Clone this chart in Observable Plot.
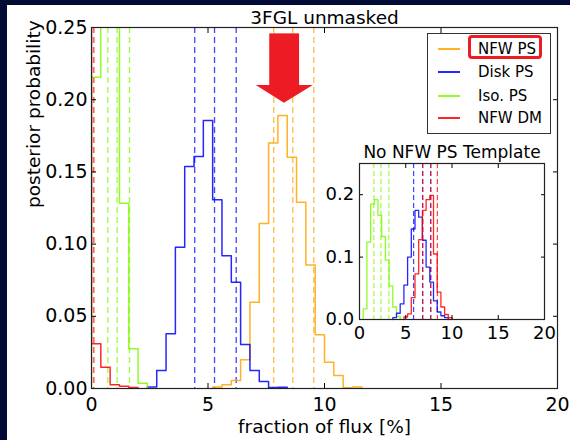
<!DOCTYPE html>
<html><head><meta charset="utf-8">
<script src="https://cdn.jsdelivr.net/npm/d3@7"></script>
<script src="https://cdn.jsdelivr.net/npm/@observablehq/plot@0.6"></script>
<style>
html,body{margin:0;padding:0;background:#020b36;width:570px;height:440px;overflow:hidden;font-family:"DejaVu Sans",sans-serif;}
#panel{position:absolute;left:7px;top:5px;width:563px;height:435px;background:#fff;}
#inset{position:absolute;left:300px;top:140px;}
#legend{position:absolute;left:427px;top:33px;width:122px;height:99px;border:1px solid #333;background:#fff;}
.lg{position:absolute;left:0;height:20px;width:122px;}
.lg .ln{position:absolute;left:10px;top:9px;width:22px;height:1.6px;}
.lg .tx{position:absolute;left:50px;top:0;font-size:15px;line-height:20px;color:#000;white-space:nowrap;}
#hl{position:absolute;left:468px;top:35px;width:68px;height:18px;border:3.5px solid #ed1c24;border-radius:4px;}
svg{display:block}
</style></head><body>
<div id="panel"></div>
<div id="inset"></div>
<div id="legend"></div>
<div id="hl"></div>
<script>
// ---------------- data ----------------
const binWidth = 0.4;
const mainTitle = "3FGL unmasked";
const insetTitle = "No NFW PS Template";
const xLabel = "fraction of flux [%]";
const yLabel = "posterior probability";
const seriesNames = ["NFW PS", "Disk PS", "Iso. PS", "NFW DM"];

const xTicks = [0, 5, 10, 15, 20];
const yTicks = [0, 0.05, 0.10, 0.15, 0.20, 0.25];
const insetYTicks = [0, 0.1, 0.2];

// main panel histograms (first bin start, per-bin probabilities)
const mainNfwPsStart = 5.2;
const mainNfwPs = [0.001, 0.0026, 0.0055, 0.0199, 0.0598, 0.1143, 0.1701, 0.189, 0.1602, 0.129, 0.0856, 0.0372, 0.0182, 0.009, 0.0005, 0.001];
const mainDiskPsStart = 2.4;
const mainDiskPs = [0.001, 0.0125, 0.0379, 0.0979, 0.1537, 0.1607, 0.1856, 0.1307, 0.0919, 0.0736, 0.0305, 0.0125, 0.0048, 0.0007, 0.0009];
const mainIsoPsStart = 0;
const mainIsoPs = [0.2156, 0.33, 0.295, 0.1283, 0.0275, 0.0037];
const mainNfwDmStart = -0.4;
const mainNfwDm = [0.95, 0.031, 0.0148, 0.0026, 0.0016, 0.0007];

// main panel quantile lines
const mainNfwPsQ = [7.82, 8.64, 9.54];
const mainDiskPsQ = [4.43, 5.28, 6.21];
const mainIsoPsQ = [0.70, 1.10, 1.63];
const mainNfwDmQ = [0.0, 0.1];

// inset histograms
const insetDiskPsStart = 3.6;
const insetDiskPs = [0.003, 0.010, 0.025, 0.055, 0.100, 0.145, 0.175, 0.164, 0.127, 0.084, 0.060, 0.030, 0.012, 0.006, 0.003];
const insetIsoPsStart = 0.4;
const insetIsoPs = [0.017, 0.124, 0.185, 0.192, 0.167, 0.133, 0.095, 0.054, 0.020, 0.005];
const insetNfwDmStart = 4.8;
const insetNfwDm = [0.004, 0.009, 0.035, 0.073, 0.128, 0.175, 0.192, 0.199, 0.105, 0.044, 0.020, 0.008, 0.003];

// inset quantile lines
const insetDiskPsQ = [5.85, 6.83, 7.70];
const insetIsoPsQ = [1.55, 2.32, 3.17];
const insetNfwDmQ = [6.83, 7.70, 8.42];

// red annotation arrow (data units)
const arrowShaft = [{x1: 7.65, x2: 8.93, y1: 0.2098, y2: 0.2456}];
const arrowHead = [{x: 7.07, y1: 0.2098, y2: 0.2098}, {x: 8.28, y1: 0.1976, y2: 0.2098}, {x: 9.52, y1: 0.2098, y2: 0.2098}];

// ---------------- style ----------------
const colors = ["#ffa500", "#0000ff", "#7cfc00", "#ff0000"];
const font = "DejaVu Sans";

function steps(start, vals, series) {
  const pts = [{x: start, y: 0, series}];
  vals.forEach((v, i) => pts.push({x: start + i * binWidth, y: v, series}));
  pts.push({x: start + vals.length * binWidth, y: 0, series});
  return pts;
}
function qrows(qs, series) { return qs.map(x => ({x, series})); }

const mainHist = [
  ...steps(mainNfwPsStart, mainNfwPs, "NFW PS"),
  ...steps(mainDiskPsStart, mainDiskPs, "Disk PS"),
  ...steps(mainIsoPsStart, mainIsoPs, "Iso. PS"),
  ...steps(mainNfwDmStart, mainNfwDm, "NFW DM")
];
const mainQ = [
  ...qrows(mainNfwPsQ, "NFW PS"), ...qrows(mainDiskPsQ, "Disk PS"),
  ...qrows(mainIsoPsQ, "Iso. PS"), ...qrows(mainNfwDmQ, "NFW DM")
];
const insetHist = [
  ...steps(insetIsoPsStart, insetIsoPs, "Iso. PS"),
  ...steps(insetDiskPsStart, insetDiskPs, "Disk PS"),
  ...steps(insetNfwDmStart, insetNfwDm, "NFW DM")
];
const insetQ = [
  ...qrows(insetIsoPsQ, "Iso. PS"), ...qrows(insetDiskPsQ, "Disk PS"), ...qrows(insetNfwDmQ, "NFW DM")
];

const main = Plot.plot({
  width: 563, height: 435,
  marginLeft: 84, marginRight: 13, marginTop: 22, marginBottom: 52,
  style: {fontFamily: font, fontSize: "19px", color: "#000", background: "transparent"},
  x: {domain: [0, 20], label: null},
  y: {domain: [0, 0.25], label: null},
  color: {domain: seriesNames, range: colors},
  marks: [
    Plot.ruleX(mainQ, {x: "x", stroke: "series", strokeWidth: 1.3, strokeDasharray: "6,4", strokeOpacity: 0.75, clip: true}),
    Plot.line(mainHist, {x: "x", y: "y", z: "series", stroke: "series", curve: "step-after", strokeWidth: 1.5, strokeOpacity: 0.85, clip: true}),
    Plot.rect(arrowShaft, {x1: "x1", x2: "x2", y1: "y1", y2: "y2", fill: "#ed1c24"}),
    Plot.areaY(arrowHead, {x: "x", y1: "y1", y2: "y2", fill: "#ed1c24"}),
    Plot.axisX({ticks: xTicks, tickSize: -5, tickPadding: 14, fontSize: 19, tickFormat: d => String(d), label: null}),
    Plot.axisX({anchor: "top", ticks: xTicks, tickSize: -5, tickFormat: () => "", label: null}),
    Plot.axisY({ticks: yTicks, tickSize: -5, tickPadding: 9, fontSize: 19, tickFormat: d3.format(".2f"), label: null}),
    Plot.axisY({anchor: "right", ticks: yTicks, tickSize: -5, tickFormat: () => "", label: null}),
    Plot.frame({stroke: "#222", strokeWidth: 1.2}),
    Plot.text([mainTitle], {frameAnchor: "top", dy: -9, fontSize: 18.5, lineAnchor: "middle", fill: "#000"}),
    Plot.text([xLabel], {frameAnchor: "bottom", dy: 39, fontSize: 18.5, lineAnchor: "middle", fill: "#000"}),
    Plot.text([yLabel], {frameAnchor: "left", dx: -57, rotate: -90, fontSize: 18.5, lineAnchor: "middle", fill: "#000"})
  ]
});
document.getElementById("panel").appendChild(main);

const inset = Plot.plot({
  width: 270, height: 210,
  marginLeft: 59, marginRight: 26, marginTop: 23, marginBottom: 31,
  style: {fontFamily: font, fontSize: "18px", color: "#000", background: "transparent", overflow: "visible"},
  x: {domain: [0, 20], label: null},
  y: {domain: [0, 0.25], label: null},
  color: {domain: seriesNames, range: colors},
  marks: [
    Plot.frame({fill: "#fff"}),
    Plot.ruleX(insetQ, {x: "x", stroke: "series", strokeWidth: 1.2, strokeDasharray: "5,3", strokeOpacity: 0.75}),
    Plot.line(insetHist, {x: "x", y: "y", z: "series", stroke: "series", curve: "step-after", strokeWidth: 1.3, strokeOpacity: 0.85}),
    Plot.axisX({ticks: xTicks, tickSize: -4, tickPadding: 10.5, fontSize: 18, tickFormat: d => String(d), label: null}),
    Plot.axisX({anchor: "top", ticks: xTicks, tickSize: -4, tickFormat: () => "", label: null}),
    Plot.axisY({ticks: insetYTicks, tickSize: -4, tickPadding: 9.3, fontSize: 18, tickFormat: d3.format(".1f"), label: null}),
    Plot.axisY({anchor: "right", ticks: insetYTicks, tickSize: -4, tickFormat: () => "", label: null}),
    Plot.frame({stroke: "#222", strokeWidth: 1.2}),
    Plot.text([insetTitle], {frameAnchor: "top", dy: -11, fontSize: 17, lineAnchor: "middle", fill: "#000"})
  ]
});
document.getElementById("inset").appendChild(inset);

// legend
const legend = document.getElementById("legend");
const legendTops = [5, 28, 52, 74];
seriesNames.forEach((name, i) => {
  const row = document.createElement("div");
  row.className = "lg";
  row.style.top = legendTops[i] + "px";
  const ln = document.createElement("div");
  ln.className = "ln";
  ln.style.background = colors[i];
  ln.style.opacity = 0.85;
  const tx = document.createElement("div");
  tx.className = "tx";
  tx.textContent = name;
  row.appendChild(ln); row.appendChild(tx);
  legend.appendChild(row);
});
</script>
</body></html>
